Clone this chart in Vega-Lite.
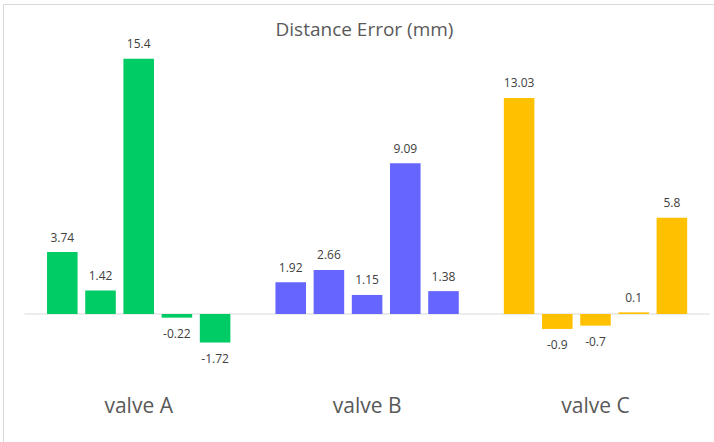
{
  "$schema": "https://vega.github.io/schema/vega-lite/v6.json",
  "width": 711,
  "height": 438,
  "autosize": {"type": "none"},
  "padding": {"left": 3, "top": 4, "right": 0, "bottom": 0},
  "background": "white",
  "title": {
    "text": "Distance Error (mm)",
    "fontSize": 19,
    "font": "Open Sans",
    "fontWeight": "normal",
    "color": "#595959",
    "anchor": "middle",
    "baseline": "alphabetic",
    "offset": -51,
    "dx": 6
  },
  "config": {
    "view": {"stroke": "#d9d9d9", "strokeWidth": 1},
    "font": "Open Sans"
  },
  "data": {
    "values": [
      {"group": "valve A", "idx": 1, "value": 3.74},
      {"group": "valve A", "idx": 2, "value": 1.42},
      {"group": "valve A", "idx": 3, "value": 15.4},
      {"group": "valve A", "idx": 4, "value": -0.22},
      {"group": "valve A", "idx": 5, "value": -1.72},
      {"group": "valve B", "idx": 1, "value": 1.92},
      {"group": "valve B", "idx": 2, "value": 2.66},
      {"group": "valve B", "idx": 3, "value": 1.15},
      {"group": "valve B", "idx": 4, "value": 9.09},
      {"group": "valve B", "idx": 5, "value": 1.38},
      {"group": "valve C", "idx": 1, "value": 13.03},
      {"group": "valve C", "idx": 2, "value": -0.9},
      {"group": "valve C", "idx": 3, "value": -0.7},
      {"group": "valve C", "idx": 4, "value": 0.1},
      {"group": "valve C", "idx": 5, "value": 5.8}
    ]
  },
  "encoding": {
    "x": {
      "field": "group",
      "type": "nominal",
      "scale": {
        "domain": ["valve A", "valve B", "valve C"],
        "range": [21.5, 706.7],
        "paddingInner": 0,
        "paddingOuter": 0
      },
      "axis": null
    }
  },
  "layer": [
    {
      "data": {"values": [{"z": 0}]},
      "mark": {"type": "rule", "color": "#d9d9d9", "strokeWidth": 1},
      "encoding": {
        "x": {"datum": "valve A", "bandPosition": 0},
        "x2": {"datum": "valve C", "bandPosition": 1},
        "y": {
          "datum": 0,
          "type": "quantitative",
          "scale": {"domain": [-7.72, 18.7], "nice": false, "zero": false},
          "axis": null
        }
      }
    },
    {
      "mark": {"type": "bar"},
      "encoding": {
        "xOffset": {
          "field": "idx",
          "type": "nominal",
          "scale": {"paddingInner": 0.2, "paddingOuter": 0.59}
        },
        "y": {"field": "value", "type": "quantitative", "axis": null},
        "color": {
          "field": "group",
          "type": "nominal",
          "scale": {
            "domain": ["valve A", "valve B", "valve C"],
            "range": ["#00CC66", "#6666FF", "#FFC000"]
          },
          "legend": null
        }
      }
    },
    {
      "transform": [{"filter": "datum.value >= 0"}],
      "mark": {
        "type": "text",
        "fontSize": 12,
        "color": "#404040",
        "baseline": "alphabetic",
        "dy": -10.5
      },
      "encoding": {
        "xOffset": {"field": "idx", "type": "nominal"},
        "y": {"field": "value", "type": "quantitative"},
        "text": {"field": "value", "type": "nominal"}
      }
    },
    {
      "transform": [{"filter": "datum.value < 0"}],
      "mark": {
        "type": "text",
        "fontSize": 12,
        "color": "#404040",
        "baseline": "alphabetic",
        "dy": 20.5
      },
      "encoding": {
        "xOffset": {"field": "idx", "type": "nominal"},
        "y": {"field": "value", "type": "quantitative"},
        "text": {"field": "value", "type": "nominal"}
      }
    },
    {
      "data": {"values": [{"group": "valve A"}, {"group": "valve B"}, {"group": "valve C"}]},
      "mark": {
        "type": "text",
        "fontSize": 21,
        "color": "#595959",
        "baseline": "alphabetic"
      },
      "encoding": {
        "y": {"datum": -6.0, "type": "quantitative"},
        "text": {"field": "group", "type": "nominal"}
      }
    }
  ]
}
